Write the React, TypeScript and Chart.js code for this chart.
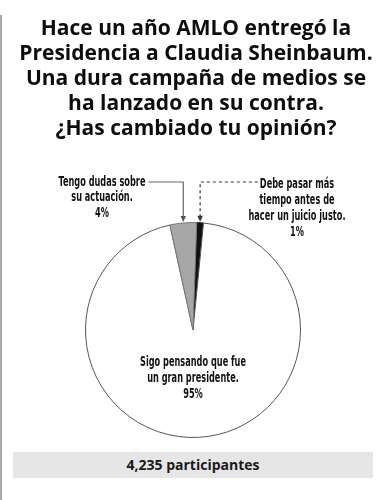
import React, { useEffect, useRef } from "react";
import { Chart, registerables } from "chart.js";

Chart.register(...registerables);

const titleLines = [
  "Hace un año AMLO entregó la",
  "Presidencia a Claudia Sheinbaum.",
  "Una dura campaña de medios se",
  "ha lanzado en su contra.",
  "¿Has cambiado tu opinión?",
];
const categories = [
  "Debe pasar más tiempo antes de hacer un juicio justo.",
  "Sigo pensando que fue un gran presidente.",
  "Tengo dudas sobre su actuación.",
];
const values = [1, 95, 4];
const sliceColors = ["#111111", "#ffffff", "#a7a7a7"];
const labelLines = [
  ["Debe pasar más", "tiempo antes de", "hacer un juicio justo.", "1%"],
  ["Sigo pensando que fue", "un gran presidente.", "95%"],
  ["Tengo dudas sobre", "su actuación.", "4%"],
];
const footerText = "4,235 participantes";

const LABEL_FONT = "bold 14.5px 'DejaVu Sans', sans-serif";
const LABEL_REF_WIDTH = 106; // width of the widest centre line in the reference

function arrowDown(ctx: CanvasRenderingContext2D, x: number, y: number) {
  ctx.beginPath();
  ctx.moveTo(x, y);
  ctx.lineTo(x - 2.8, y - 6);
  ctx.lineTo(x + 2.8, y - 6);
  ctx.closePath();
  ctx.fill();
}

const labelPlugin = {
  id: "pieLabels",
  afterDraw(chart: any) {
    const meta = chart.getDatasetMeta(0);
    if (!meta || !meta.data.length) return;
    const ctx: any = chart.ctx;
    const a0 = meta.data[0];
    const cx = a0.x;
    const cy = a0.y;
    const r = a0.outerRadius;
    const tip = (i: number) => {
      const el = meta.data[i];
      const mid = (el.startAngle + el.endAngle) / 2;
      return { x: cx + r * Math.cos(mid), y: cy + r * Math.sin(mid) };
    };
    ctx.save();
    ctx.font = LABEL_FONT;
    try {
      ctx.fontStretch = "condensed";
    } catch (e) {}
    ctx.fillStyle = "#111";
    ctx.textAlign = "center";
    ctx.textBaseline = "middle";
    const F = LABEL_REF_WIDTH / ctx.measureText(labelLines[1][0]).width;
    const wOf = (t: string) => ctx.measureText(t).width * Math.min(1, F);
    const put = (t: string, x: number, y: number) => ctx.fillText(t, x, y, wOf(t));

    // right label (1%)
    const rx = cx + 104;
    const ry = cy - 146;
    labelLines[0].forEach((t, k) => put(t, rx, ry + k * 16));
    // left label (4%)
    const lx = cx - 91;
    const ly = cy - 148;
    labelLines[2].forEach((t, k) => put(t, lx, ly + k * 15.5));
    // centre label (95%)
    const mx = cx;
    const my = cy + 32;
    labelLines[1].forEach((t, k) => put(t, mx, my + k * 16.3));

    // leader for grey slice
    const tg = tip(2);
    const lw = wOf(labelLines[2][0]);
    ctx.strokeStyle = "#666";
    ctx.fillStyle = "#555";
    ctx.lineWidth = 1.2;
    ctx.beginPath();
    ctx.moveTo(lx + lw / 2 + 3, ly);
    ctx.lineTo(tg.x, ly);
    ctx.lineTo(tg.x, tg.y - 5);
    ctx.stroke();
    arrowDown(ctx, tg.x, tg.y - 1);

    // dashed leader for black slice
    const tb = tip(0);
    const rw = wOf(labelLines[0][0]);
    ctx.strokeStyle = "#333";
    ctx.fillStyle = "#333";
    ctx.setLineDash([3, 3]);
    ctx.beginPath();
    ctx.moveTo(rx - rw / 2 - 2, ry - 2);
    ctx.lineTo(tb.x, ry - 2);
    ctx.lineTo(tb.x, tb.y - 5);
    ctx.stroke();
    ctx.setLineDash([]);
    arrowDown(ctx, tb.x, tb.y - 1);
    ctx.restore();
  },
};

export default function App() {
  const ref = useRef<HTMLCanvasElement>(null);
  useEffect(() => {
    if (!ref.current) return;
    const chart = new Chart(ref.current, {
      type: "pie",
      data: {
        labels: categories,
        datasets: [
          {
            data: values,
            backgroundColor: sliceColors,
            borderColor: ["#111111", "#555555", "#777777"],
            borderWidth: 1,
          },
        ],
      },
      options: {
        animation: false,
        responsive: false,
        rotation: 2,
        layout: { padding: { left: 85, right: 91, top: 222, bottom: 62 } },
        plugins: {
          legend: { display: false },
          tooltip: { enabled: false },
          title: { display: false },
        },
      },
      plugins: [labelPlugin],
    });
    return () => chart.destroy();
  }, []);

  return (
    <div
      style={{
        position: "fixed",
        left: 0,
        top: 0,
        width: 392,
        height: 500,
        background: "#fff",
        overflow: "hidden",
      }}
    >
      <canvas ref={ref} width={392} height={500} style={{ position: "absolute", left: 0, top: 0 }} />
      <div
        style={{
          position: "absolute",
          left: 0,
          top: 15,
          width: 2,
          height: 485,
          background: "#a8a8a8",
        }}
      />
      <div
        style={{
          position: "absolute",
          left: 0,
          top: 15,
          width: 392,
          textAlign: "center",
          fontFamily: "'Open Sans', sans-serif",
          fontWeight: 700,
          fontSize: 21,
          lineHeight: "25px",
          color: "#0d0d0d",
        }}
      >
        {titleLines.map((t, i) => (
          <div key={i}>{t}</div>
        ))}
      </div>
      <div
        style={{
          position: "absolute",
          left: 13,
          top: 452,
          width: 360,
          height: 26,
          background: "#e6e6e7",
          textAlign: "center",
          fontFamily: "'Open Sans', sans-serif",
          fontWeight: 700,
          fontSize: 14,
          lineHeight: "26px",
          color: "#1a1a1a",
        }}
      >
        {footerText}
      </div>
    </div>
  );
}
